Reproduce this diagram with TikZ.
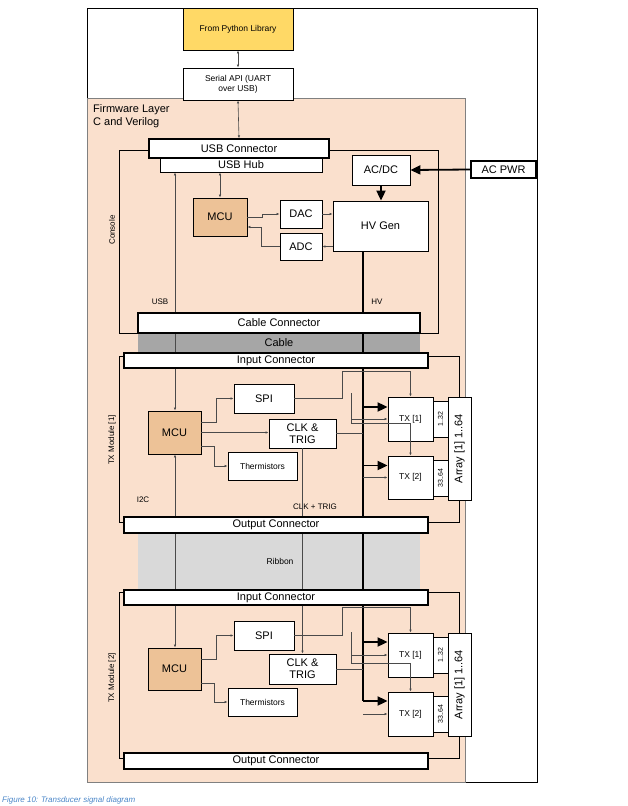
\documentclass[tikz,border=0pt]{standalone}
\usepackage{fontspec}
\setmainfont{Liberation Sans}
\usetikzlibrary{arrows.meta,calc}
\definecolor{peach}{HTML}{FAE0CD}
\definecolor{mcufill}{HTML}{EDC297}
\definecolor{pyfill}{HTML}{FFD966}
\definecolor{wire}{HTML}{4A4A4A}
\definecolor{capblue}{HTML}{4A86C8}
\pgfdeclarelayer{bottom}
\pgfdeclarelayer{back}
\pgfsetlayers{bottom,back,main}
\tikzset{
  box/.style={draw=black, fill=white, line width=0.8pt, inner sep=0pt, align=center, font=\fontsize{11}{12.5}\selectfont},
  conn/.style={box, line width=1.3pt},
  small/.style={font=\fontsize{8.5}{10}\selectfont},
  wire/.style={draw=wire, line width=0.6pt},
  sig/.style={wire, -{Latex[length=3pt,width=2.5pt]}},
  bsig/.style={wire, {Latex[length=3pt,width=2.5pt]}-{Latex[length=3pt,width=2.5pt]}},
  bus/.style={draw=black, line width=1.8pt},
  hvarrow/.style={draw=black, line width=1.8pt, -{Triangle[length=10pt,width=9pt]}},
  lbl/.style={inner sep=0pt, font=\fontsize{8}{9.5}\selectfont}
}
\begin{document}
\begin{tikzpicture}[x=1pt,y=-1pt]
    \useasboundingbox (0,0) rectangle (627,806);
    \begin{pgfonlayer}{bottom}
        % frames and shaded bands
        \draw [line width=0.8pt] (87,8) rectangle (537,782);
        \draw [fill=peach, draw=gray, line width=0.8pt] (87,98) rectangle (465,782);
        \draw [wire, draw=black] (119,150) rectangle (438,333);
        \draw [wire, draw=black] (119,356) rectangle (459,522);
        \draw [wire, draw=black] (119,592) rectangle (459,758);
        \fill [fill=black!35] (138,333) rectangle (420,353);
        \fill [fill=black!15] (138,533) rectangle (420,590);
    \end{pgfonlayer}
    \coordinate (usb) at (175,0);
    \coordinate (bus) at (363,0);
    % host side
    \node [box, fill=pyfill, minimum width=110, minimum height=42, small] (py) at (238,29) {From Python Library};
    \node [box, minimum width=110, minimum height=32, small] (ser) at (238,84) {Serial API (UART\\over USB)};
    \node [anchor=north west, inner sep=0pt, align=left, font=\fontsize{11}{13.5}\selectfont] (fw) at (93,104) {Firmware Layer\\C and Verilog};
    % console
    \node [conn, minimum width=180, minimum height=19] (usbc) at (239,148.5) {USB Connector};
    \node [box, minimum width=162, minimum height=14] (hub) at (241,165) {USB Hub};
    \node [box, minimum width=58, minimum height=30] (acdc) at (381,170) {AC/DC};
    \node [conn, minimum width=65, minimum height=17] (acpwr) at (503.5,169.5) {AC PWR};
    \node [box, minimum width=95, minimum height=50] (hv) at (380.5,226) {HV Gen};
    \node [box, fill=mcufill, minimum width=54, minimum height=38] (mcu) at (220,217) {MCU};
    \node [box, minimum width=42, minimum height=28] (dac) at (301,214) {DAC};
    \node [box, minimum width=42, minimum height=27] (adc) at (301,246.5) {ADC};
    \node [conn, minimum width=282, minimum height=20] (cablec) at (279,323) {Cable Connector};
    \node [inner sep=0pt, font=\fontsize{11}{12.5}\selectfont] (cable) at (279,343) {Cable};
    \node [lbl, rotate=90] (console) at (112,230) {Console};
    \node [lbl] (usbl) at (160,302) {USB};
    \node [lbl] (hvl) at (377,302) {HV};
    % TX module 1
    \node [conn, minimum width=304, minimum height=15] (inc1) at (276,360.5) {Input Connector};
    \node [conn, minimum width=304, minimum height=16] (outc1) at (276,525) {Output Connector};
    \node [box, fill=mcufill, minimum width=53, minimum height=43] (mcu1) at (174.5,432.5) {MCU};
    \node [box, minimum width=60, minimum height=29] (spi1) at (264,398.5) {SPI};
    \node [box, minimum width=67, minimum height=29, font=\fontsize{11}{12}\selectfont] (clk1) at (302.5,433.5) {CLK \&\\TRIG};
    \node [box, minimum width=69, minimum height=28, small] (th1) at (262.5,466) {Thermistors};
    \node [box, minimum width=45, minimum height=44, small] (tx11) at (410.5,419) {TX [1]};
    \node [box, minimum width=15, minimum height=36, font=\fontsize{7}{8}\selectfont] (n11) at (440.5,419) {\rotatebox{90}{1..32}};
    \node [box, minimum width=45, minimum height=43, small] (tx12) at (410.5,477.5) {TX [2]};
    \node [box, minimum width=15, minimum height=36, font=\fontsize{7}{8}\selectfont] (n12) at (440.5,478) {\rotatebox{90}{33..64}};
    \node [conn, minimum width=23, minimum height=103, line width=1pt] (arr1) at (459.5,448.5) {\rotatebox{90}{Array [1] 1..64}};
    \node [lbl, rotate=90] (mod1) at (112,440) {TX Module [1]};
    \node [lbl] (i2c) at (143,500) {I2C};
    \node [lbl] (clkl) at (315,507) {CLK + TRIG};
    \node [inner sep=0pt, font=\fontsize{8.5}{10}\selectfont] (ribbon) at (280,561) {Ribbon};
    % TX module 2
    \node [conn, minimum width=304, minimum height=15] (inc2) at (276,597.5) {Input Connector};
    \node [conn, minimum width=304, minimum height=16] (outc2) at (276,761) {Output Connector};
    \node [box, fill=mcufill, minimum width=53, minimum height=42] (mcu2) at (174.5,669) {MCU};
    \node [box, minimum width=60, minimum height=29] (spi2) at (264,635.5) {SPI};
    \node [box, minimum width=67, minimum height=30, font=\fontsize{11}{12}\selectfont] (clk2) at (302.5,669) {CLK \&\\TRIG};
    \node [box, minimum width=69, minimum height=28, small] (th2) at (262.5,702) {Thermistors};
    \node [box, minimum width=45, minimum height=44, small] (tx21) at (410.5,655) {TX [1]};
    \node [box, minimum width=15, minimum height=36, font=\fontsize{7}{8}\selectfont] (n21) at (440.5,655) {\rotatebox{90}{1..32}};
    \node [box, minimum width=45, minimum height=44, small] (tx22) at (410.5,714) {TX [2]};
    \node [box, minimum width=15, minimum height=36, font=\fontsize{7}{8}\selectfont] (n22) at (440.5,714) {\rotatebox{90}{33..64}};
    \node [conn, minimum width=23, minimum height=103, line width=1pt] (arr2) at (459.5,684.5) {\rotatebox{90}{Array [1] 1..64}};
    \node [lbl, rotate=90] (mod2) at (112,678) {TX Module [2]};
    \node [anchor=west, inner sep=0pt, text=capblue, font=\itshape\fontsize{8}{9}\selectfont] (cap) at (2,800) {Figure 10: Transducer signal diagram};
    \begin{pgfonlayer}{back}
        % host and console wiring
        \draw [bsig] (py.south) -- (ser.north);
        \draw [bsig] (ser.south) -- (usbc.north);
        \draw [bsig] (hub.south -| mcu.north) -- (mcu.north);
        \draw [sig] (cablec.north -| usb) -- (hub.south -| usb);
        \draw [wire] (cablec.south -| usb) -- (inc1.north -| usb);
        \draw [bus] (hv.south -| bus) -- (cablec.north -| bus);
        \draw [bus] (cablec.south -| bus) -- (inc1.north -| bus);
        \draw [bus] (inc1.south -| bus) -- (outc1.north -| bus);
        \draw [bus] (outc1.south -| bus) -- (inc2.north -| bus);
        \draw [bus] (inc2.south -| bus) -- ([yshift=13pt]tx22.west -| bus);
        \draw [wire] (outc1.south -| usb) -- (inc2.north -| usb);
        \draw [wire] (outc1.south -| clk1.south) -- (inc2.north -| clk1.south);
    \end{pgfonlayer}
    \draw [hvarrow] (acpwr.west) -- (acdc.east);
    \draw [hvarrow] (acdc.south) -- (acdc.south |- hv.north);
    \draw [sig] (mcu.east) -- ++(15,0) |- (dac.west);
    \draw [sig] (dac.east) -- (dac.east -| hv.west);
    \draw [sig] (adc.east -| hv.west) -- (adc.east);
    \draw [sig] (adc.west) -- ++(-18,0) |- ([yshift=-10pt]mcu.east);
    % module 1 wiring
    \coordinate (s1) at (351,393);
    \draw [sig] (inc1.south -| usb) -- (mcu1.north -| usb);
    \draw [sig] (outc1.north -| usb) -- (mcu1.south -| usb);
    \draw [sig] ([yshift=10.5pt]mcu1.east) -- ++(15,0) |- (spi1.west);
    \draw [sig] (mcu1.east) -- (mcu1.east -| clk1.west);
    \draw [sig] ([yshift=-13.5pt]mcu1.east) -- ++(13,0) |- (th1.west);
    \draw [wire] (clk1.east) -- (clk1.east -| bus);
    \draw [wire] (clk1.south) -- (clk1.south |- outc1.north);
    \draw [sig] (spi1.east) -- ++(48,0) |- ([yshift=25pt]tx11.north) -- (tx11.north);
    \draw [sig] (s1) |- ([yshift=-4pt]tx11.center) -- (tx12.north);
    \draw [sig] (s1 |- tx11.west) -- (tx11.west);
    \draw [sig] (tx12.west -| bus) -- (tx12.west);
    \draw [hvarrow] ([yshift=12pt]tx11.west -| bus) -- ([yshift=12pt]tx11.west);
    \draw [hvarrow] ([yshift=12pt]tx12.west -| bus) -- ([yshift=12pt]tx12.west);
    % module 2 wiring
    \coordinate (s2) at (351,632);
    \draw [sig] (inc2.south -| usb) -- (mcu2.north -| usb);
    \draw [sig] (inc2.south -| clk2.north) -- (clk2.north);
    \draw [sig] ([yshift=10pt]mcu2.east) -- ++(15,0) |- (spi2.west);
    \draw [sig] ([yshift=-14pt]mcu2.east) -- ++(13,0) |- (th2.west);
    \draw [wire] (clk2.east) -- (clk2.east -| bus);
    \draw [sig] (spi2.east) -- ++(48,0) |- ([yshift=25pt]tx21.north) -- (tx21.north);
    \draw [sig] (s2) |- ([yshift=-8pt]tx21.center) -- (tx22.north);
    \draw [sig] (s2 |- tx21.west) -- (tx21.west);
    \draw [sig] (tx22.west -| bus) -- (tx22.west);
    \draw [hvarrow] ([yshift=13pt]tx21.west -| bus) -- ([yshift=13pt]tx21.west);
    \draw [hvarrow] ([yshift=13pt]tx22.west -| bus) -- ([yshift=13pt]tx22.west);
\end{tikzpicture}
\end{document}
